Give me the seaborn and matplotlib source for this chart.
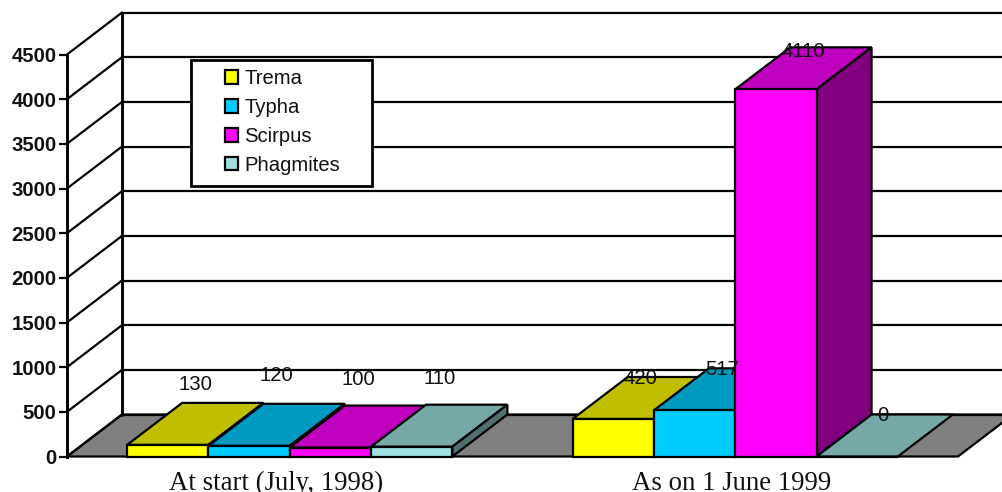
import pandas as pd
import seaborn as sns
import matplotlib.pyplot as plt
from matplotlib.patches import Patch, Polygon, Rectangle

# data
categories = ['At start (July, 1998)', 'As on 1 June 1999']
species = ['Trema', 'Typha', 'Scirpus', 'Phagmites']
trema = [130, 420]
typha = [120, 517]
scirpus = [100, 4110]
phagmites = [110, 0]
y_ticks = [0, 500, 1000, 1500, 2000, 2500, 3000, 3500, 4000, 4500]

front_colors = ['#FFFF00', '#00CCFF', '#FF00FF', '#9FE0E0']
top_colors = ['#BFBF00', '#0099BF', '#BF00BF', '#77A8A8']
side_colors = ['#808000', '#006680', '#800080', '#507070']

# depth of the fake 3d box, in data units
depth_x = 0.1235
depth_y = 470
line_w = 1.6

# extra lift of each value label (points), bars left to right
label_lift = [13, 20.5, 19, 19, -1, -1, -2.8, -1]
# the category labels sit a little left of the group centres
label_shift = [-0.031, -0.009]

W, H = 1003, 492
df = pd.DataFrame({
    'category': categories * 4,
    'species': [s for s in species for _ in categories],
    'value': trema + typha + scirpus + phagmites,
})

sns.set_theme(style='white')
plt.rcParams['font.family'] = ['Liberation Sans', 'DejaVu Sans']

fig = plt.figure(figsize=(W / 100, H / 100), dpi=100, facecolor='white')
ax = fig.add_axes([67 / W, (H - 456.5) / H, 891 / W, 402 / H])
ax.patch.set_visible(False)

sns.barplot(data=df, x='category', y='value', hue='species', order=categories,
            hue_order=species, palette=front_colors, saturation=1, width=0.73,
            gap=0, edgecolor='black', linewidth=line_w, legend=False, ax=ax)
ax.set_xlim(-0.5, 1.5)
ax.set_ylim(0, 4500)

# floor and back wall
x0, x1 = ax.get_xlim()
ax.add_patch(Polygon([(x0, 0), (x1, 0), (x1 + depth_x, depth_y), (x0 + depth_x, depth_y)],
                     facecolor='#808080', edgecolor='black', linewidth=line_w,
                     zorder=1, clip_on=False))
ax.plot([x0 + depth_x, x0 + depth_x], [depth_y, 4500 + depth_y], color='black',
        linewidth=line_w + 0.5, zorder=2, clip_on=False)
for v in y_ticks:
    ax.plot([x0, x0 + depth_x], [v, v + depth_y], color='black', linewidth=line_w,
            zorder=2, clip_on=False)
    ax.plot([x0 + depth_x, x1 + depth_x], [v + depth_y, v + depth_y], color='black',
            linewidth=line_w, zorder=2, clip_on=False)

# top and side faces on the seaborn bars, painted left to right
bars = []
for i, name in enumerate(species):
    for patch in ax.containers[i]:
        bars.append((patch.get_x(), patch, i))
bars.sort(key=lambda b: b[0])

for n, (x, patch, i) in enumerate(bars):
    w = patch.get_width()
    h = patch.get_height()
    z = 3 + n * 0.1
    patch.set_zorder(z + 0.02)
    patch.set_clip_on(False)
    ax.add_patch(Polygon([(x, h), (x + w, h), (x + w + depth_x, h + depth_y), (x + depth_x, h + depth_y)],
                         facecolor=top_colors[i], edgecolor='black', linewidth=line_w,
                         zorder=z, clip_on=False))
    if h > 0:
        ax.add_patch(Polygon([(x + w, 0), (x + w + depth_x, depth_y), (x + w + depth_x, h + depth_y), (x + w, h)],
                             facecolor=side_colors[i], edgecolor='black', linewidth=line_w,
                             zorder=z, clip_on=False))
    ax.annotate(str(int(h)), (x + w / 2 + depth_x / 2, h + depth_y),
                xytext=(-1 if h == 0 else 0, label_lift[n]), textcoords='offset points', ha='center', va='center',
                fontsize=14.7, color='#111111', zorder=6, annotation_clip=False)

# axes
sns.despine(ax=ax, top=True, right=True, bottom=True)
ax.spines['left'].set_linewidth(line_w + 0.5)
ax.spines['left'].set_color('black')
ax.spines['left'].set_zorder(2)
ax.set_xlabel('')
ax.set_ylabel('')
ax.set_yticks(y_ticks)
ax.set_yticklabels([str(v) for v in y_ticks], fontweight='bold', fontsize=14.7)
ax.tick_params(axis='y', left=True, length=5.5, width=line_w, pad=2, color='black', labelcolor='#111111')
ax.set_xticks([k + s for k, s in enumerate(label_shift)], categories)
ax.tick_params(axis='x', bottom=False, pad=4.5, labelcolor='#111111')
for lab in ax.get_xticklabels():
    lab.set_family('Liberation Serif')
    lab.set_fontsize(19.3)

# legend box is drawn on its own, the padding is not even in the original
fig.add_artist(Rectangle((191 / W, (H - 186) / H), 181 / W, 126 / H, transform=fig.transFigure,
                         facecolor='white', edgecolor='black', linewidth=line_w + 0.4, zorder=5))
handles = [Patch(facecolor=c, edgecolor='black', linewidth=line_w) for c in front_colors]
leg = fig.legend(handles, species, loc='upper left', bbox_to_anchor=(225 / W, (H - 69) / H),
                 frameon=False, fontsize=14.6, borderpad=0, borderaxespad=0, labelspacing=0.49,
                 handlelength=0.65, handleheight=0.65, handletextpad=0.3, labelcolor='#111111')
leg.set_zorder(6)

fig.savefig('out.png', dpi=100)
